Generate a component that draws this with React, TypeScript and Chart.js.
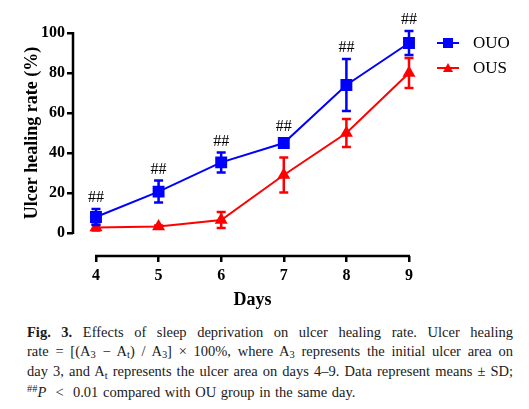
import { useEffect, useRef } from 'react'
import { Chart, registerables } from 'chart.js'

Chart.register(...registerables)

// values (mean ± SD)
const days = [4, 5, 6, 7, 8, 9]
const ouoMean = [8, 20.7, 35.3, 45, 74, 95]
const ouoSd = [4, 5.5, 5, 2, 13, 6]
const ousMean = [2.7, 3.3, 6.5, 29, 50, 80]
const ousSd = [1.5, 0.5, 4, 8.7, 7, 7.5]
const yTicks = [0, 20, 40, 60, 80, 100]
const sigMarks = ['##', '##', '##', '##', '##', '##']
const seriesNames = ['OUO', 'OUS']
const seriesColors = ['#0000ff', '#ff0000']

const serif = '"Liberation Serif", "Times New Roman", serif'

// axes, error bars, significance marks, legend and titles
const extrasPlugin = {
  id: 'extras',
  afterDatasetsDraw(chart: any) {
    const { ctx, chartArea } = chart
    const x = chart.scales.x
    const y = chart.scales.y
    ctx.save()

    // error bars
    const groups = [
      { mean: ousMean, sd: ousSd, color: seriesColors[1] },
      { mean: ouoMean, sd: ouoSd, color: seriesColors[0] },
    ]
    groups.forEach(g => {
      ctx.strokeStyle = g.color
      ctx.lineWidth = 2.5
      days.forEach((d, i) => {
        const px = x.getPixelForValue(d)
        const top = y.getPixelForValue(g.mean[i] + g.sd[i])
        const bot = y.getPixelForValue(g.mean[i] - g.sd[i])
        ctx.beginPath()
        ctx.moveTo(px, top)
        ctx.lineTo(px, bot)
        ctx.moveTo(px - 4.5, top)
        ctx.lineTo(px + 4.5, top)
        ctx.moveTo(px - 4.5, bot)
        ctx.lineTo(px + 4.5, bot)
        ctx.stroke()
      })
    })

    // axis lines (offset Prism style)
    ctx.strokeStyle = '#000'
    ctx.lineWidth = 2.5
    ctx.beginPath()
    ctx.moveTo(chartArea.left, y.getPixelForValue(0) + 1)
    ctx.lineTo(chartArea.left, y.getPixelForValue(100) - 1)
    ctx.moveTo(x.getPixelForValue(days[0]) - 1, chartArea.bottom)
    ctx.lineTo(x.getPixelForValue(days[days.length - 1]) + 1, chartArea.bottom)
    ctx.stroke()

    // ## marks above the OUO bars
    ctx.fillStyle = '#000'
    ctx.font = `16px ${serif}`
    ctx.textAlign = 'center'
    ctx.textBaseline = 'middle'
    days.forEach((d, i) => {
      const px = x.getPixelForValue(d)
      const top = Math.min(
        y.getPixelForValue(ouoMean[i] + ouoSd[i]),
        y.getPixelForValue(ouoMean[i]) - 5
      )
      ctx.fillText(sigMarks[i], px, top - 11)
    })

    // legend
    const lx = chartArea.right + 28
    seriesNames.forEach((name, i) => {
      const ly = chartArea.top + 10 + i * 25
      ctx.strokeStyle = seriesColors[i]
      ctx.fillStyle = seriesColors[i]
      ctx.lineWidth = 2
      ctx.beginPath()
      ctx.moveTo(lx, ly)
      ctx.lineTo(lx + 22, ly)
      ctx.stroke()
      ctx.beginPath()
      if (i === 0) {
        ctx.rect(lx + 6, ly - 5, 10, 10)
      } else {
        ctx.moveTo(lx + 11, ly - 5)
        ctx.lineTo(lx + 16, ly + 4)
        ctx.lineTo(lx + 6, ly + 4)
        ctx.closePath()
      }
      ctx.fill()
      ctx.fillStyle = '#000'
      ctx.font = `17px ${serif}`
      ctx.textAlign = 'left'
      ctx.fillText(name, lx + 36, ly + 1)
    })

    // axis titles
    ctx.font = `bold 18px ${serif}`
    ctx.textAlign = 'center'
    ctx.save()
    ctx.translate(32, (y.getPixelForValue(0) + y.getPixelForValue(100)) / 2)
    ctx.rotate(-Math.PI / 2)
    ctx.fillText('Ulcer healing rate (%)', 0, 0)
    ctx.restore()
    ctx.font = `bold 18px ${serif}`
    ctx.fillText(
      'Days',
      (x.getPixelForValue(days[0]) + x.getPixelForValue(days[days.length - 1])) / 2,
      chartArea.bottom + 44
    )
    ctx.restore()
  },
}

function HealingChart() {
  const chartRef = useRef<HTMLCanvasElement>(null)
  const chartInstance = useRef<Chart | null>(null)

  useEffect(() => {
    if (!chartRef.current) return
    if (chartInstance.current) chartInstance.current.destroy()
    const ctx = chartRef.current.getContext('2d')
    if (!ctx) return

    const tickFont = { family: serif, size: 16, weight: 'bold' as const }

    chartInstance.current = new Chart(ctx, {
      type: 'line',
      data: {
        datasets: [
          {
            label: seriesNames[0],
            data: days.map((d, i) => ({ x: d, y: ouoMean[i] })),
            borderColor: seriesColors[0],
            backgroundColor: seriesColors[0],
            borderWidth: 2,
            pointStyle: 'rect',
            pointRadius: 7,
            clip: false,
          },
          {
            label: seriesNames[1],
            data: days.map((d, i) => ({ x: d, y: ousMean[i] })),
            borderColor: seriesColors[1],
            backgroundColor: seriesColors[1],
            borderWidth: 2,
            pointStyle: 'triangle',
            pointRadius: 5.5,
            clip: false,
          },
        ],
      },
      options: {
        animation: false,
        responsive: false,
        layout: { padding: { top: 33, right: 120, left: 0, bottom: 0 } },
        plugins: {
          legend: { display: false },
          tooltip: { enabled: false },
        },
        scales: {
          x: {
            type: 'linear',
            min: 3.633,
            max: 9,
            afterBuildTicks: (s: any) => {
              s.ticks = days.map(v => ({ value: v }))
            },
            afterFit: (s: any) => {
              s.height = 64
            },
            ticks: { font: tickFont, color: '#000', padding: 4 },
            grid: { drawOnChartArea: false, color: '#000', lineWidth: 2.5, tickLength: 6 },
            border: { display: false },
          },
          y: {
            min: -11.5,
            max: 100,
            afterBuildTicks: (s: any) => {
              s.ticks = yTicks.map(v => ({ value: v }))
            },
            afterFit: (s: any) => {
              s.width = 73
            },
            ticks: { font: tickFont, color: '#000', padding: 2 },
            grid: { drawOnChartArea: false, color: '#000', lineWidth: 2.5, tickLength: 6 },
            border: { display: false },
          },
        },
      },
      plugins: [extrasPlugin],
    })

    return () => {
      if (chartInstance.current) {
        chartInstance.current.destroy()
        chartInstance.current = null
      }
    }
  }, [])

  return <canvas ref={chartRef} width={529} height={320} style={{ width: 529, height: 320, display: 'block' }}></canvas>
}

const sub = { fontSize: '0.72em', verticalAlign: 'baseline', position: 'relative' as const, top: '0.28em' }
const lineJ = { textAlign: 'justify' as const, textAlignLast: 'justify' as const, whiteSpace: 'nowrap' as const }

export default function App() {
  return (
    <div style={{ position: 'absolute', left: 0, top: 0, width: 529, height: 409, background: '#fff', overflow: 'hidden' }}>
      <HealingChart />
      <div
        style={{
          position: 'absolute',
          left: 27,
          top: 323,
          width: 486,
          fontFamily: serif,
          fontSize: 14.5,
          lineHeight: '18.5px',
          color: '#1a1a1a',
        }}
      >
        <div style={lineJ}>
          <b>Fig. 3.</b> Effects of sleep deprivation on ulcer healing rate. Ulcer healing
        </div>
        <div style={lineJ}>
          rate = [(A<span style={sub}>3</span> − A<span style={sub}>t</span>) / A<span style={sub}>3</span>] × 100%, where A<span style={sub}>3</span> represents the initial ulcer area on
        </div>
        <div style={lineJ}>
          day 3, and A<span style={sub}>t</span> represents the ulcer area on days 4–9. Data represent means ± SD;
        </div>
        <div style={{ wordSpacing: '1px' }}>
          <span style={{ fontSize: '0.72em', verticalAlign: 'baseline', position: 'relative', top: '-0.45em' }}>##</span>
          <i>P</i> &nbsp;&lt;&nbsp; 0.01 compared with OU group in the same day.
        </div>
      </div>
    </div>
  )
}
